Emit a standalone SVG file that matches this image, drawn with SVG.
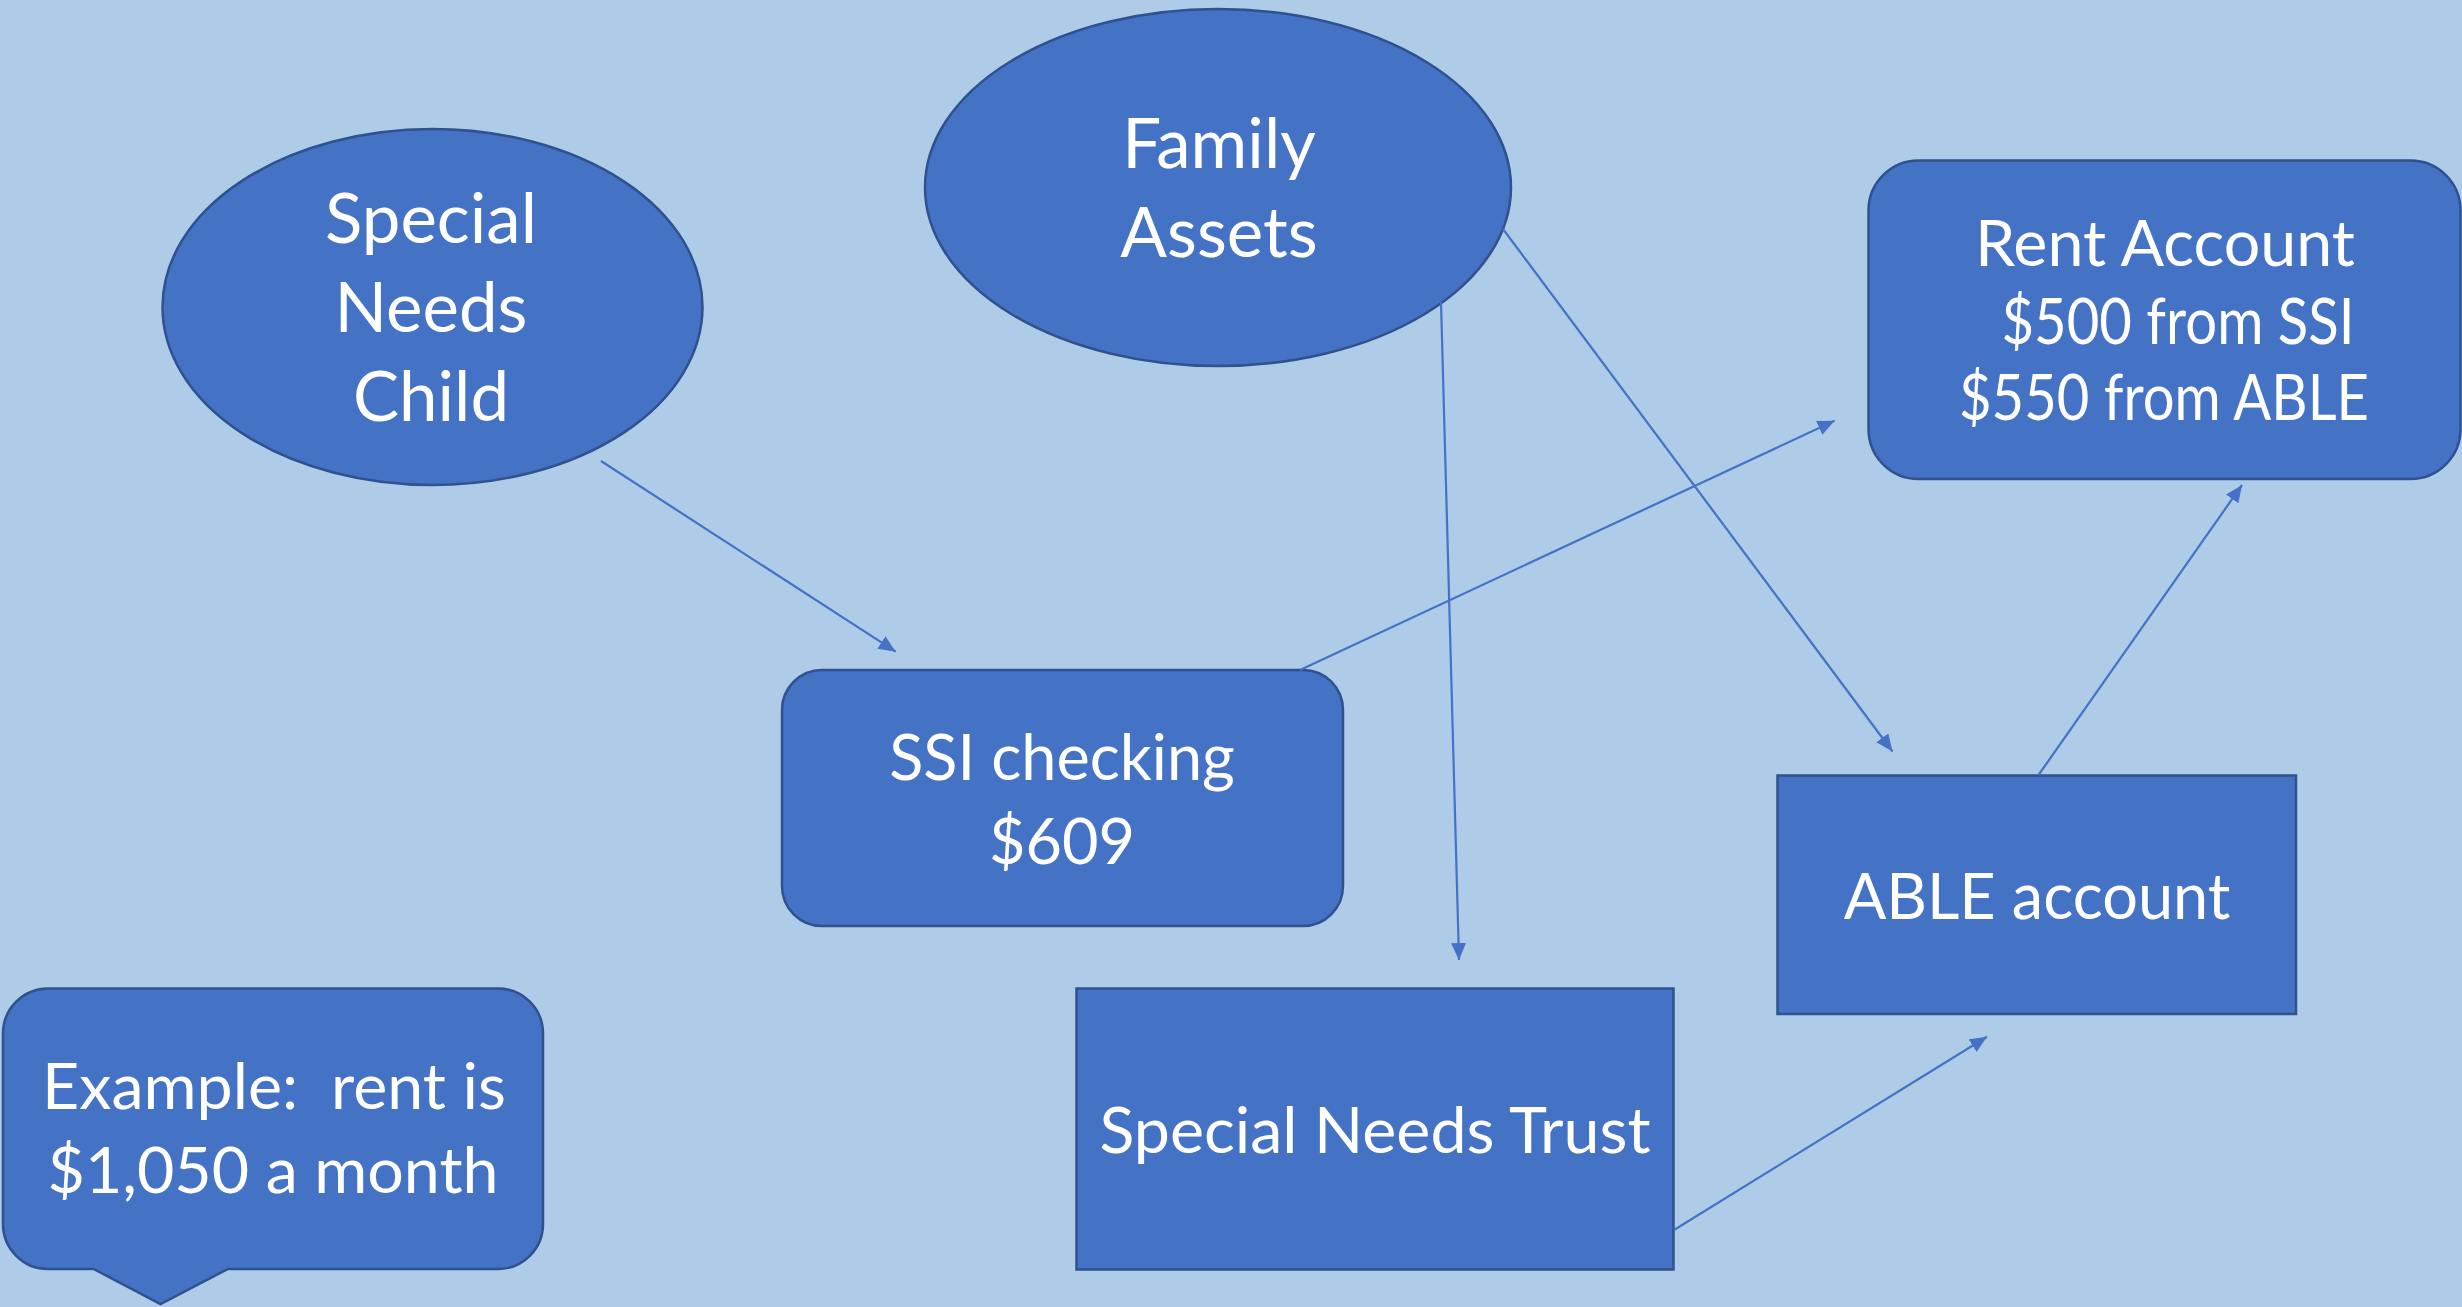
<svg xmlns="http://www.w3.org/2000/svg" width="2462" height="1307" viewBox="0 0 2462 1307">
  <style>
    .shape { fill: #4472C4; stroke: #2F528F; stroke-width: 2.5; }
    .label { fill: #FFFFFF; font-family: Lato, "Open Sans", "Liberation Sans", sans-serif; font-size: 63px; text-anchor: middle; }
    .big { font-size: 69px; }
    .mid { font-size: 64.5px; }
    .link { stroke: #4472C4; stroke-width: 2.2; fill: none; marker-end: url(#arrow); }
  </style>
  <defs>
    <marker id="arrow" markerUnits="userSpaceOnUse" markerWidth="18" markerHeight="16" refX="17" refY="7.5" orient="auto">
      <path d="M0,0 L17,7.5 L0,15 Z" fill="#4472C4"/>
    </marker>
  </defs>

  <!-- background -->
  <rect x="0" y="0" width="2462" height="1307" fill="#AECCE8"/>

  <g id="special-needs-child">
    <ellipse class="shape" cx="432.5" cy="307" rx="270" ry="178"/>
    <text class="label big" x="431" y="243">Special</text>
    <text class="label big" x="431" y="332">Needs</text>
    <text class="label big" x="431" y="421">Child</text>
  </g>

  <g id="family-assets">
    <ellipse class="shape" cx="1218" cy="187.5" rx="293" ry="178.5"/>
    <text class="label big" x="1219" y="168">Family</text>
    <text class="label big" x="1219" y="257">Assets</text>
  </g>

  <g id="rent-account">
    <rect class="shape" x="1868.5" y="160.5" width="592" height="318.5" rx="50" ry="50"/>
    <text class="label" x="2165" y="266" textLength="380" lengthAdjust="spacingAndGlyphs">Rent Account</text>
    <text class="label" x="2178" y="344" textLength="353" lengthAdjust="spacingAndGlyphs">$500 from SSI</text>
    <text class="label" x="2164" y="420" textLength="410" lengthAdjust="spacingAndGlyphs">$550 from ABLE</text>
  </g>

  <g id="ssi-checking">
    <rect class="shape" x="782" y="670" width="561" height="256" rx="40" ry="40"/>
    <text class="label" x="1062" y="780">SSI checking</text>
    <text class="label" x="1062" y="864">$609</text>
  </g>

  <g id="able-account">
    <rect class="shape" x="1777.5" y="775.5" width="518.5" height="238.5"/>
    <text class="label" x="2037" y="919">ABLE account</text>
  </g>

  <g id="special-needs-trust">
    <rect class="shape" x="1076.5" y="988.5" width="597" height="281"/>
    <text class="label mid" x="1375" y="1153">Special Needs Trust</text>
  </g>

  <g id="example-callout">
    <path class="shape" d="M48,988.5 H498 A45,45 0 0 1 543,1033.5 V1224 A45,45 0 0 1 498,1269 H228 L160.5,1304 L93.5,1269 H48 A45,45 0 0 1 3,1224 V1033.5 A45,45 0 0 1 48,988.5 Z"/>
    <text class="label mid" x="274" y="1109" xml:space="preserve">Example:  rent is</text>
    <text class="label mid" x="273" y="1193">$1,050 a month</text>
  </g>

  <g id="connectors">
    <line class="link" x1="601" y1="461" x2="895.7" y2="651.7"/>
    <line class="link" x1="1441" y1="302" x2="1459" y2="960"/>
    <line class="link" x1="1503" y1="229" x2="1892.5" y2="751.5"/>
    <line class="link" x1="1300" y1="670" x2="1834.6" y2="420.7"/>
    <line class="link" x1="2038.5" y1="775" x2="2242" y2="485"/>
    <line class="link" x1="1674" y1="1230" x2="1987" y2="1036.7"/>
  </g>
</svg>
